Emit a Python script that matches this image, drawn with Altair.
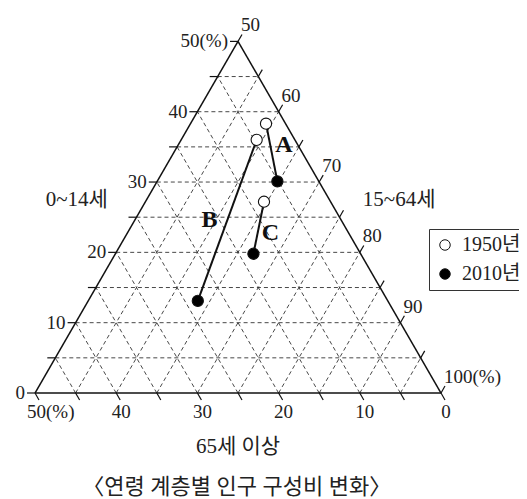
import math
import altair as alt
import pandas as pd

# ---------------- data ----------------
regions = ["A", "B", "C"]
years = ["1950년", "2010년"]
child_1950 = [38.3, 36.0, 27.2]     # 0~14세 (%)
work_1950 = [59.3, 59.3, 64.6]      # 15~64세 (%)
elder_1950 = [2.4, 4.7, 8.2]        # 65세 이상 (%)
child_2010 = [30.1, 13.1, 19.8]
work_2010 = [64.8, 63.5, 67.0]
elder_2010 = [5.1, 23.4, 13.2]
label_child = [35.3, 24.6, 22.8]    # where the A/B/C letters sit
label_elder = [1.7, 16.2, 9.6]

grid_steps = [5, 10, 15, 20, 25, 30, 35, 40, 45]
tick_steps = [0, 5, 10, 15, 20, 25, 30, 35, 40, 45, 50]
left_labels = ["0", "10", "20", "30", "40", "50(%)"]          # 0~14세: 0..50
left_values = [0, 10, 20, 30, 40, 50]
bottom_labels = ["40", "30", "20", "10", "0"]                  # 65세 이상
bottom_values = [40, 30, 20, 10, 0]
right_labels = ["50", "60", "70", "80", "90", "100(%)"]        # 15~64세
right_values = [50, 60, 70, 80, 90, 100]

S = math.sqrt(3) / 2
SIDE = 406.0
L = 8.0 / SIDE  # tick length in data units
FONT = "Liberation Serif, Noto Sans CJK KR"


def tern(child, elder):
    u = child / 50.0
    w = elder / 50.0
    return 1 - 0.5 * u - w, u * S


# points
rows = []
for i, r in enumerate(regions):
    for yr, ch, el in ((years[0], child_1950[i], elder_1950[i]), (years[1], child_2010[i], elder_2010[i])):
        x, y = tern(ch, el)
        rows.append({"region": r, "year": yr, "x": x, "y": y})
pts = pd.DataFrame(rows)

lab_rows = []
for i, r in enumerate(regions):
    x, y = tern(label_child[i], label_elder[i])
    lab_rows.append({"region": r, "x": x, "y": y})
labs = pd.DataFrame(lab_rows)

# triangle edges
V = {"BL": (0.0, 0.0), "BR": (1.0, 0.0), "T": (0.5, S)}
edges = pd.DataFrame([
    {"x": V[a][0], "y": V[a][1], "x2": V[b][0], "y2": V[b][1]}
    for a, b in (("BL", "BR"), ("BR", "T"), ("T", "BL"))
])

# grid lines
g = []
for k in grid_steps:
    u = k / 50.0
    g.append({"x": 0.5 * u, "y": u * S, "x2": 1 - 0.5 * u, "y2": u * S})          # 0~14 const
    w = k / 50.0
    g.append({"x": 1 - w, "y": 0.0, "x2": 0.5 - 0.5 * w, "y2": (1 - w) * S})    # 65+ const
    v = k / 50.0
    g.append({"x": v, "y": 0.0, "x2": 0.5 + 0.5 * v, "y2": (1 - v) * S})        # 15~64 const
grid = pd.DataFrame(g)

# ticks
t = []
for k in tick_steps:
    u = k / 50.0
    x0, y0 = 0.5 * u, u * S
    t.append({"x": x0, "y": y0, "x2": x0 - L, "y2": y0})
    w = k / 50.0
    x0, y0 = 1 - w, 0.0
    t.append({"x": x0, "y": y0, "x2": x0 + 0.5 * L, "y2": y0 - S * L})
    v = k / 50.0
    x0, y0 = 0.5 + 0.5 * v, (1 - v) * S
    t.append({"x": x0, "y": y0, "x2": x0 + 0.5 * L, "y2": y0 + S * L})
ticks = pd.DataFrame(t)

left_df = pd.DataFrame([
    {"text": s, "x": 0.5 * (val / 50.0) - L, "y": (val / 50.0) * S}
    for s, val in zip(left_labels, left_values)
])
bottom_df = pd.DataFrame([
    {"text": s, "x": 1 - val / 50.0 + 0.5 * L, "y": -S * L}
    for s, val in zip(bottom_labels, bottom_values)
])
bottom50_df = pd.DataFrame([{"text": "50(%)", "x": 0.0, "y": -S * L}])
right_df = pd.DataFrame([
    {"text": s, "x": 0.5 + 0.5 * ((val - 50) / 50.0) + 0.5 * L,
     "y": (1 - (val - 50) / 50.0) * S + S * L}
    for s, val in zip(right_labels, right_values)
])
titles_df = pd.DataFrame([
    {"text": "0~14세", "x": 0.103, "y": 0.475},
    {"text": "15~64세", "x": 0.897, "y": 0.475},
    {"text": "65세 이상", "x": 0.50, "y": -0.133},
])
main_title = pd.DataFrame([{"text": "〈연령 계층별 인구 구성비 변화〉", "x": 0.497, "y": -0.232}])

# ---------------- chart ----------------
xs = alt.Scale(domain=[0, 1], range=[27, 27 + SIDE], nice=False, zero=False)
ys = alt.Scale(domain=[0, S], range=[385, 385 - SIDE * S], nice=False, zero=False)


def X(f="x"):
    return alt.X(f"{f}:Q", scale=xs, axis=None)


def Y(f="y"):
    return alt.Y(f"{f}:Q", scale=ys, axis=None)


grid_layer = alt.Chart(grid).mark_rule(color="#333", strokeWidth=0.9, strokeDash=[4, 3]).encode(
    x=X(), y=Y(), x2="x2:Q", y2="y2:Q")
edge_layer = alt.Chart(edges).mark_rule(color="#111", strokeWidth=1.5).encode(
    x=X(), y=Y(), x2="x2:Q", y2="y2:Q")
tick_layer = alt.Chart(ticks).mark_rule(color="#111", strokeWidth=1.2).encode(
    x=X(), y=Y(), x2="x2:Q", y2="y2:Q")

left_txt = alt.Chart(left_df).mark_text(align="right", baseline="middle", dx=-2, font=FONT,
                                        fontSize=19, color="#222").encode(x=X(), y=Y(), text="text:N")
bottom_txt = alt.Chart(bottom_df).mark_text(align="center", baseline="top", dx=1, dy=3, font=FONT,
                                            fontSize=19, color="#222").encode(x=X(), y=Y(), text="text:N")
bottom50_txt = alt.Chart(bottom50_df).mark_text(align="left", baseline="top", dx=-8, dy=3, font=FONT,
                                                fontSize=19, color="#222").encode(x=X(), y=Y(), text="text:N")
right_txt = alt.Chart(right_df).mark_text(align="left", baseline="bottom", dx=-1, dy=1, font=FONT,
                                          fontSize=19, color="#222").encode(x=X(), y=Y(), text="text:N")
title_txt = alt.Chart(titles_df).mark_text(align="center", baseline="middle", font=FONT,
                                           fontSize=21, color="#222").encode(x=X(), y=Y(), text="text:N")
main_txt = alt.Chart(main_title).mark_text(align="center", baseline="middle", font=FONT,
                                           fontSize=22, color="#222").encode(x=X(), y=Y(), text="text:N")

path_layer = alt.Chart(pts).mark_line(color="#111", strokeWidth=2).encode(
    x=X(), y=Y(), detail="region:N", order="year:N")
point_layer = alt.Chart(pts).mark_point(shape="circle", filled=True, size=125, stroke="#111",
                                        strokeWidth=1.1, opacity=1).encode(
    x=X(), y=Y(),
    fill=alt.Fill("year:N", scale=alt.Scale(domain=years, range=["white", "black"]),
                  legend=alt.Legend(title=None, orient="none", legendX=421, legendY=221,
                                    strokeColor="#333", fillColor="white", padding=6,
                                    labelFont=FONT, labelFontSize=20, labelColor="#222",
                                    symbolType="circle", symbolSize=110, symbolStrokeColor="#111",
                                    symbolStrokeWidth=1, rowPadding=9, labelOffset=7)))
abc_layer = alt.Chart(labs).mark_text(align="center", baseline="middle", font="Liberation Serif",
                                      fontSize=24, fontWeight="bold", color="#111").encode(
    x=X(), y=Y(), text="region:N")

chart = alt.layer(grid_layer, edge_layer, tick_layer, left_txt, bottom_txt, bottom50_txt, right_txt,
                  title_txt, main_txt, path_layer, point_layer, abc_layer).properties(
    width=511, height=491, padding=0, autosize="none", background="white"
).configure_view(stroke=None)

chart.save("out.html", embed_options={"renderer": "svg", "actions": False})
